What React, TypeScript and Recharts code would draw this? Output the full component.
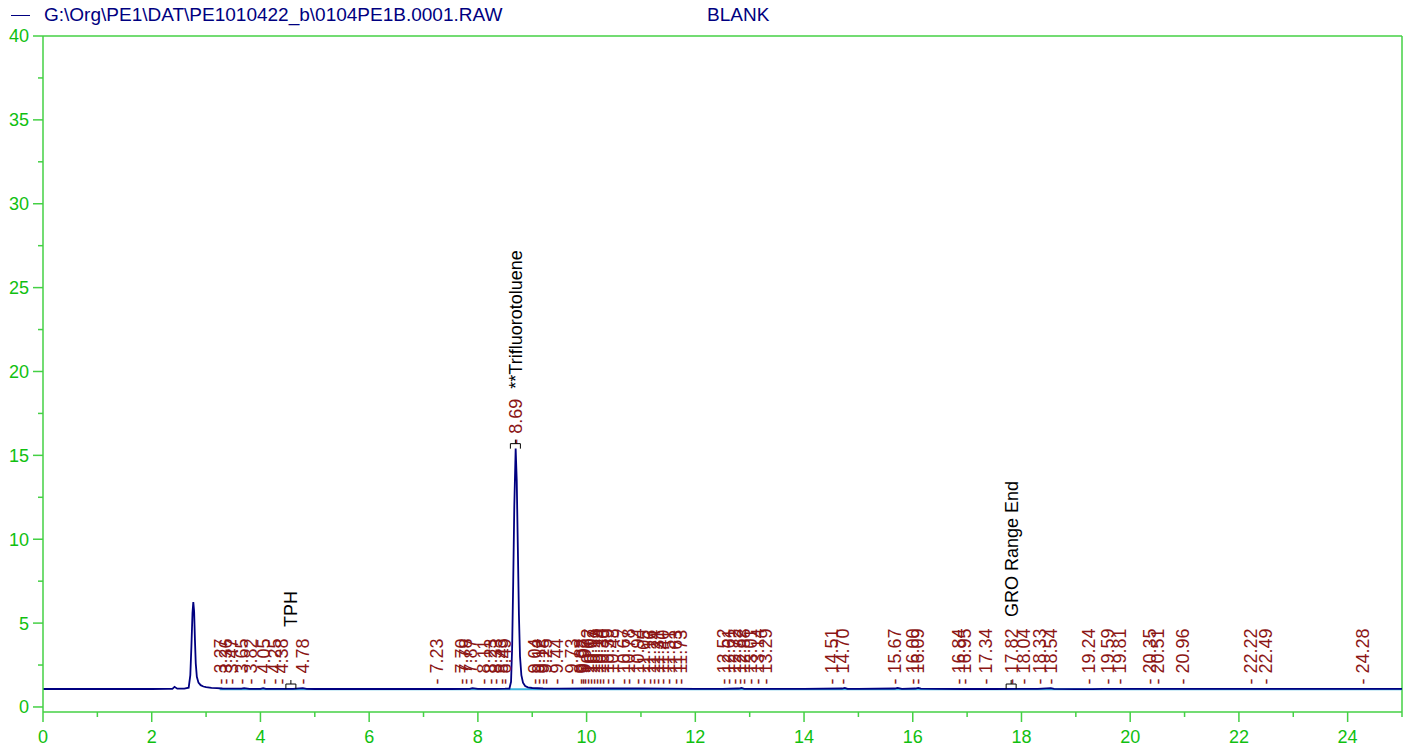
import React from 'react';
import { ComposedChart, Line, Scatter, XAxis, YAxis, ReferenceLine } from 'recharts';

// ---- data ----
const chromTimes = [0, 0.5, 1.0, 1.5, 2.0, 2.3, 2.38, 2.42, 2.47, 2.6, 2.68, 2.71, 2.73, 2.75, 2.765, 2.78, 2.795, 2.81, 2.83, 2.86, 2.9, 2.95, 3.0, 3.1, 3.2, 3.3, 3.5, 3.65, 3.7, 3.8, 4.0, 4.05, 4.1, 4.3, 4.6, 4.78, 4.85, 5.0, 5.5, 6.0, 6.5, 7.0, 7.5, 7.85, 7.9, 8.0, 8.3, 8.5, 8.58, 8.61, 8.63, 8.65, 8.67, 8.695, 8.715, 8.735, 8.755, 8.775, 8.8, 8.83, 8.87, 8.92, 9.0, 9.2, 9.5, 10.0, 10.5, 11.0, 11.5, 12.0, 12.5, 12.8, 12.85, 12.9, 13.5, 14.0, 14.7, 14.75, 14.8, 15.0, 15.67, 15.72, 15.8, 16.05, 16.1, 16.15, 16.5, 17.0, 17.5, 18.0, 18.3, 18.54, 18.6, 19.0, 19.3, 19.5, 20.0, 20.5, 21.0, 22.0, 23.0, 24.0, 25.0];
const chromValues = [1.07, 1.07, 1.07, 1.07, 1.07, 1.08, 1.08, 1.2, 1.09, 1.09, 1.15, 1.9, 3.6, 5.6, 6.25, 5.7, 4.0, 2.6, 1.8, 1.45, 1.3, 1.22, 1.18, 1.14, 1.12, 1.1, 1.09, 1.09, 1.12, 1.08, 1.08, 1.12, 1.08, 1.08, 1.08, 1.12, 1.08, 1.07, 1.07, 1.07, 1.07, 1.07, 1.07, 1.08, 1.12, 1.08, 1.08, 1.09, 1.1, 1.5, 3.5, 7.5, 12.0, 15.4, 13.5, 9.5, 5.5, 3.0, 1.9, 1.45, 1.25, 1.17, 1.13, 1.1, 1.09, 1.1, 1.1, 1.1, 1.09, 1.08, 1.08, 1.1, 1.13, 1.08, 1.08, 1.08, 1.1, 1.14, 1.08, 1.08, 1.1, 1.14, 1.08, 1.1, 1.14, 1.09, 1.08, 1.07, 1.07, 1.08, 1.08, 1.12, 1.08, 1.06, 1.06, 1.08, 1.08, 1.08, 1.08, 1.08, 1.08, 1.08, 1.08];

const baselineTimes = [3.25, 25];
const baselineValues = [1.05, 1.05];

const peakTimes = [3.27, 3.36, 3.47, 3.65, 3.82, 4.05, 4.25, 4.38, 4.78,
  7.23, 7.70, 7.78, 7.87, 8.11, 8.23, 8.33, 8.43, 8.49,
  8.69,
  9.04, 9.12, 9.18, 9.25, 9.44,
  9.73, 9.88, 9.92, 9.97, 10.02, 10.07, 10.13, 10.19, 10.24, 10.30, 10.39, 10.48, 10.67, 10.78, 10.94, 11.05, 11.16, 11.24, 11.31, 11.40, 11.51, 11.63, 11.73,
  12.52, 12.61, 12.72, 12.82, 12.88, 13.01, 13.14, 13.29,
  14.51, 14.70, 15.67, 16.00, 16.09, 16.84, 16.95, 17.34, 17.82, 18.04, 18.33, 18.54,
  19.24, 19.59, 19.81, 20.35, 20.51, 20.96, 22.22, 22.49, 24.28];
const peakApex = peakTimes.map((t) => (t === 8.69 ? 15.4 : 1.1));

const eventTimes = [4.56, 8.69, 17.81];
const eventHeights = [1.07, 15.4, 1.07];
const eventNames = ['TPH', '**Trifluorotoluene', 'GRO Range End'];

const xTicks = [0, 1, 2, 3, 4, 5, 6, 7, 8, 9, 10, 11, 12, 13, 14, 15, 16, 17, 18, 19, 20, 21, 22, 23, 24, 25];
const yTicks = [0, 2.5, 5, 7.5, 10, 12.5, 15, 17.5, 20, 22.5, 25, 27.5, 30, 32.5, 35, 37.5, 40];

const titleText = 'G:\\Org\\PE1\\DAT\\PE1010422_b\\0104PE1B.0001.RAW';
const sampleName = 'BLANK';

// ---- built tables ----
const chromData = chromTimes.map((t, i) => ({ t, v: chromValues[i] }));
const baselineData = baselineTimes.map((t, i) => ({ t, v: baselineValues[i] }));
const peakData = peakTimes.map((t, i) => ({ t, h: peakApex[i], label: t.toFixed(2) }));
const eventData = eventTimes.map((t, i) => ({ t, h: eventHeights[i], name: eventNames[i] }));

const FONT = '"Liberation Sans", Arial, Helvetica, sans-serif';
const AXIS_LINE = '#44d044';
const AXIS_TEXT = '#10c010';
const LABEL_RED = '#8b1515';
const NAVY = '#000080';

const XTick = (props: any) => {
  const { x, y, payload } = props;
  const major = payload.value % 2 === 0;
  return (
    <g>
      <line x1={x} x2={x} y1={y} y2={y + (major ? 10 : 5)} stroke={AXIS_LINE} strokeWidth={1.5} />
      {major && (
        <text x={x} y={y + 31} textAnchor="middle" fontSize={18} fontFamily={FONT} fill={AXIS_TEXT}>
          {payload.value}
        </text>
      )}
    </g>
  );
};

const YTick = (props: any) => {
  const { x, y, payload } = props;
  const major = payload.value % 5 === 0;
  return (
    <g>
      <line x1={x - (major ? 10 : 5)} x2={x} y1={y} y2={y} stroke={AXIS_LINE} strokeWidth={1.5} />
      {major && (
        <text x={x - 14} y={y} dy="0.36em" textAnchor="end" fontSize={18} fontFamily={FONT} fill={AXIS_TEXT}>
          {payload.value}
        </text>
      )}
    </g>
  );
};

const PeakLabel = (props: any) => {
  const { cx, cy, payload } = props;
  if (cx == null || cy == null) return <g />;
  return (
    <text
      transform={`translate(${cx},${cy - 4}) rotate(-90)`}
      dy="0.36em"
      textAnchor="start"
      fontSize={18}
      fontFamily={FONT}
      fill={LABEL_RED}
    >
      {'- ' + payload.label}
    </text>
  );
};

const nameOffset: Record<string, number> = { 'TPH': 62, '**Trifluorotoluene': 60, 'GRO Range End': 72 };

const EventMarker = (props: any) => {
  const { cx, cy, payload } = props;
  if (cx == null || cy == null) return <g />;
  const off = nameOffset[payload.name] ?? 60;
  return (
    <g>
      <path
        d={`M${cx - 5},${cy} L${cx - 5},${cy - 5} L${cx + 5},${cy - 5} L${cx + 5},${cy} M${cx},${cy - 5} L${cx},${cy - 9}`}
        stroke="#000"
        strokeWidth={1}
        fill="none"
      />
      <text
        transform={`translate(${cx},${cy - off}) rotate(-90)`}
        dy="0.36em"
        textAnchor="start"
        fontSize={18}
        fontFamily={FONT}
        fill="#000"
      >
        {payload.name}
      </text>
    </g>
  );
};

export default function App() {
  return (
    <div style={{ position: 'absolute', left: 0, top: 0, width: 1403, height: 749, background: '#fff' }}>
      <div
        style={{
          position: 'absolute',
          left: 0,
          top: 3,
          width: 1403,
          height: 24,
          fontFamily: FONT,
          fontSize: 19,
          color: NAVY,
          lineHeight: '24px',
          whiteSpace: 'nowrap',
        }}
      >
        <span style={{ position: 'absolute', left: 11, top: 12, width: 19, height: 0, borderTop: `1.5px solid ${NAVY}` }} />
        <span style={{ position: 'absolute', left: 44, top: 0 }}>{titleText}</span>
        <span style={{ position: 'absolute', left: 707, top: 0 }}>{sampleName}</span>
      </div>
      <ComposedChart
        width={1403}
        height={749}
        margin={{ top: 36, right: 1, left: 0, bottom: 0 }}
        style={{ position: 'absolute', left: 0, top: 0 }}
      >
        <XAxis
          dataKey="t"
          type="number"
          domain={[0, 25]}
          ticks={xTicks}
          interval={0}
          height={37}
          tickSize={0}
          tickMargin={0}
          tickLine={false}
          axisLine={{ stroke: AXIS_LINE, strokeWidth: 1.5 }}
          tick={<XTick />}
          allowDataOverflow
        />
        <YAxis
          type="number"
          domain={[-0.3, 40]}
          ticks={yTicks}
          interval={0}
          width={43}
          tickSize={0}
          tickMargin={0}
          tickLine={false}
          axisLine={{ stroke: AXIS_LINE, strokeWidth: 1.5 }}
          tick={<YTick />}
          allowDataOverflow
        />
        <ReferenceLine y={40} stroke={AXIS_LINE} strokeWidth={1.5} ifOverflow="visible" />
        <ReferenceLine x={25} stroke={AXIS_LINE} strokeWidth={1.5} ifOverflow="visible" />
        <Line
          data={baselineData}
          dataKey="v"
          type="linear"
          stroke="#3cb4dc"
          strokeWidth={2}
          dot={false}
          isAnimationActive={false}
        />
        <Line
          data={chromData}
          dataKey="v"
          type="linear"
          stroke={NAVY}
          strokeWidth={1.8}
          dot={false}
          isAnimationActive={false}
        />
        <Scatter data={peakData} dataKey="h" shape={<PeakLabel />} isAnimationActive={false} />
        <Scatter data={eventData} dataKey="h" shape={<EventMarker />} isAnimationActive={false} />
      </ComposedChart>
    </div>
  );
}
